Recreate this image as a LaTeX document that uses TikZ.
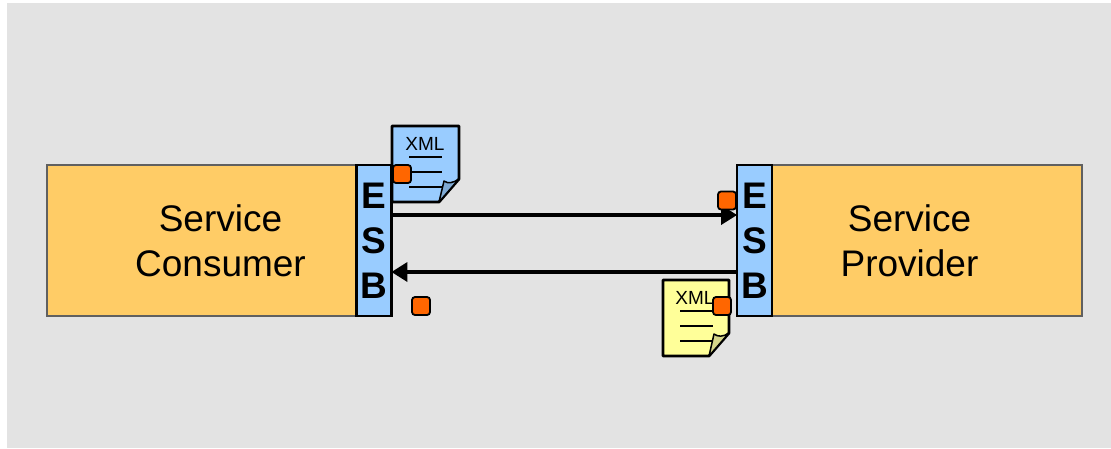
\documentclass[tikz,border=0pt]{standalone}
\usepackage{fontspec}
\setmainfont{Liberation Sans}
\usetikzlibrary{arrows.meta}
\definecolor{bgc}{HTML}{E3E3E3}
\definecolor{boxc}{HTML}{FFCC66}
\definecolor{esbc}{HTML}{99CCFF}
\definecolor{orangec}{HTML}{FF6600}
\definecolor{yelc}{HTML}{FFFF99}
\definecolor{flapb}{HTML}{7FAAD4}
\definecolor{flapy}{HTML}{D6D68A}
\definecolor{edgec}{HTML}{606060}
\tikzset{
  x=1pt,y=-1pt,
  svcbox/.style={draw=edgec,line width=2.5pt,fill=boxc,inner sep=0pt,minimum width=#1,minimum height=151pt},
  svctext/.style={inner sep=0pt,align=center,font=\fontsize{37}{45}\selectfont},
  esbbox/.style={draw=black,line width=2.8pt,fill=esbc,inner sep=0pt,minimum width=35pt,minimum height=151pt,align=center,font=\fontsize{37}{45}\selectfont\bfseries},
  msg/.style={draw=black,line width=1.8pt,fill=orangec,rounded corners=3pt,inner sep=0pt,minimum size=18pt},
  doc/.style={draw=black,line width=2.8pt,line join=round},
  docline/.style={draw=black,line width=2.2pt},
  flow/.style={draw=black,line width=3.5pt,shorten >=-1.5pt,-{Triangle[length=16pt,width=19pt]}},
  xmltext/.style={inner sep=0pt,font=\fontsize{19}{22}\selectfont}
}
\begin{document}
\begin{tikzpicture}
\useasboundingbox (0,0) rectangle (1111,448);
\fill[white] (0,0) rectangle (1111,448);
\fill[bgc] (7,3) rectangle (1111,448);
% blue document
\draw[doc,fill=esbc] (392,126) -- (459,126) -- (459,179) -- (439,202) -- (392,202) -- cycle;
\draw[doc,line width=1.5pt,fill=flapb] (439,202) -- (444,181) .. controls (448,184) and (453,183) .. (459,179) -- cycle;
\node[xmltext] (xmlA) at (425,144) {XML};
\coordinate (a1l) at (409,157); \coordinate (a1r) at (442,157);
\coordinate (a2l) at (409,172); \coordinate (a2r) at (442,172);
\coordinate (a3l) at (409,187); \coordinate (a3r) at (442,187);
\draw[docline] (a1l) -- (a1r);
\draw[docline] (a2l) -- (a2r);
\draw[docline] (a3l) -- (a3r);
% yellow document
\draw[doc,fill=yelc] (663,280) -- (729,280) -- (729,333) -- (709,356) -- (663,356) -- cycle;
\draw[doc,line width=1.5pt,fill=flapy] (709,356) -- (714,334) .. controls (718,337) and (723,337) .. (729,333) -- cycle;
\node[xmltext] (xmlB) at (695,297.5) {XML};
\coordinate (b1l) at (680,311); \coordinate (b1r) at (713,311);
\coordinate (b2l) at (680,326); \coordinate (b2r) at (713,326);
\coordinate (b3l) at (680,341); \coordinate (b3r) at (713,341);
\draw[docline] (b1l) -- (b1r);
\draw[docline] (b2l) -- (b2r);
\draw[docline] (b3l) -- (b3r);
% service boxes
\node[svcbox=309pt] (consumer) at (201.5,240.5) {};
\node[svcbox=310pt] (provider) at (927,240.5) {};
\node[svctext] (consumerText) at (220.5,241) {Service\\Consumer};
\node[svctext] (providerText) at (909.5,241) {Service\\Provider};
\node[esbbox] (esbL) at (374,240.5) {E\\S\\B};
\node[esbbox] (esbR) at (754.5,240.5) {E\\S\\B};
% flows
\draw[flow] ([yshift=25.5pt]esbL.east) -- ([yshift=25.5pt]esbR.west);
\draw[flow] ([yshift=-31.5pt]esbR.west) -- ([yshift=-31.5pt]esbL.east);
% messages
\node[msg] (m1) at (402,174) {};
\node[msg] (m2) at (727,200.5) {};
\node[msg] (m3) at (421,306) {};
\node[msg] (m4) at (722,306) {};
\end{tikzpicture}
\end{document}
